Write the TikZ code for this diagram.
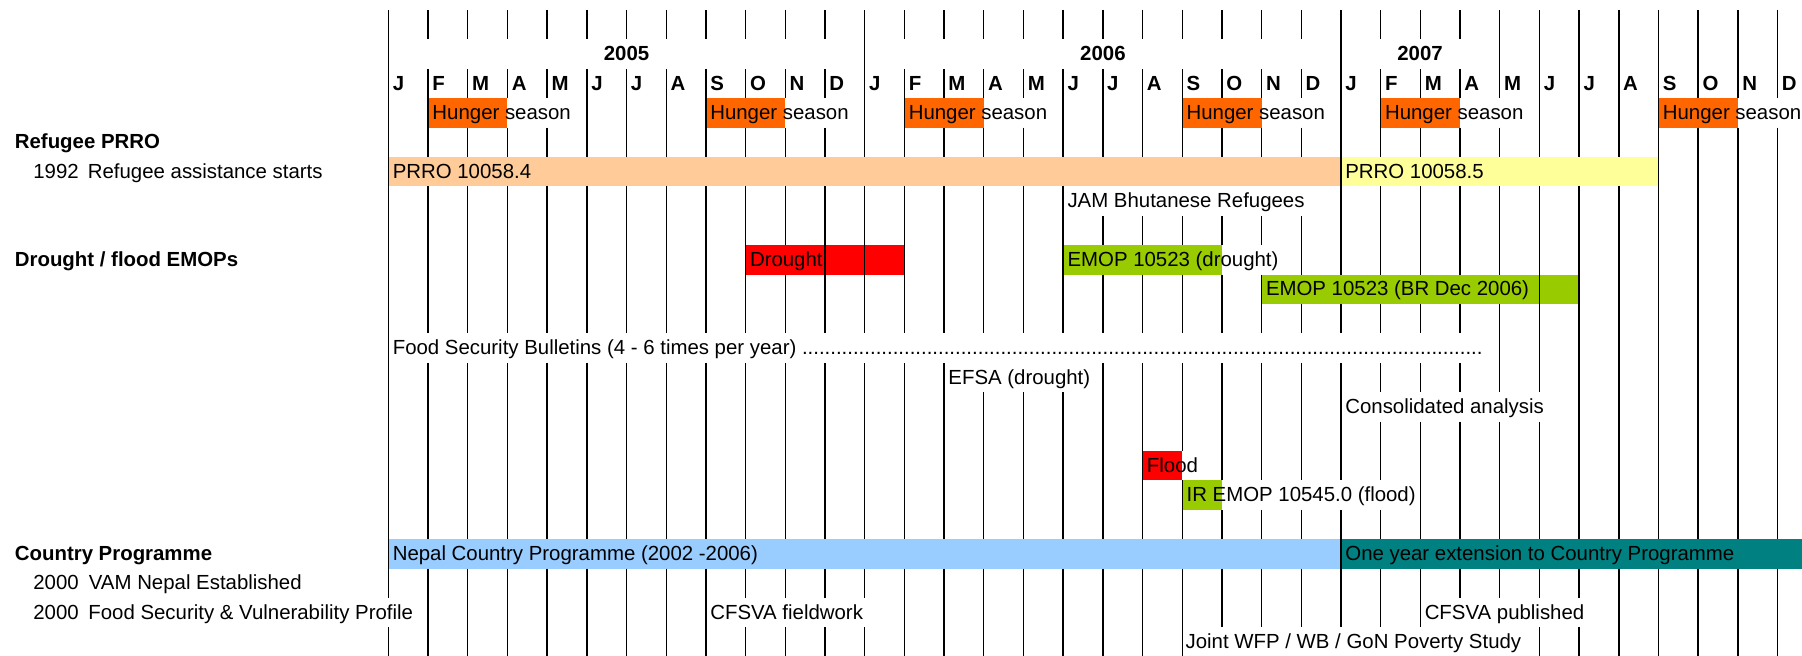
\documentclass[tikz,border=0pt]{standalone}
\usepackage{fontspec}
\setmainfont{Liberation Sans}
\ExplSyntaxOn
\newcommand\repdots[1]{\prg_replicate:nn{#1}{.}}
\ExplSyntaxOff
\definecolor{hungerc}{HTML}{FF6600}
\definecolor{prroa}{HTML}{FFCC99}
\definecolor{prrob}{HTML}{FFFF99}
\definecolor{redc}{HTML}{FF0000}
\definecolor{greenc}{HTML}{99CC00}
\definecolor{bluec}{HTML}{99CCFF}
\definecolor{tealc}{HTML}{008080}
\newcommand\cx[1]{388.4+39.69*(#1)}
\newcommand\ry[1]{10+29.4*(#1)}
\begin{document}
\begin{tikzpicture}[x=0.5pt,y=-0.5pt,
  grid/.style={line width=0.7pt, black},
  lbl/.style={anchor=base west, inner sep=0pt, font=\fontsize{10.2}{12}\selectfont},
  blbl/.style={lbl, font=\fontsize{10.2}{12}\selectfont\bfseries}]
\clip (0,0) rectangle (1802,655);
\fill[white] (0,0) rectangle (1802,655);

% ---- bars ----
\foreach \s in {1,8,13,20,25,32}
  \fill[hungerc] ({\cx{\s}},{\ry{3}}) rectangle ({\cx{\s+2}},{\ry{4}});
\fill[prroa] ({\cx{0}},{\ry{5}}) rectangle ({\cx{24}},{\ry{6}});
\fill[prrob] ({\cx{24}},{\ry{5}}) rectangle ({\cx{32}},{\ry{6}});
\fill[redc] ({\cx{9}},{\ry{8}}) rectangle ({\cx{13}},{\ry{9}});
\fill[greenc] ({\cx{17}},{\ry{8}}) rectangle ({\cx{21}},{\ry{9}});
\fill[greenc] ({\cx{22}},{\ry{9}}) rectangle ({\cx{30}},{\ry{10}});
\fill[redc] ({\cx{19}},{\ry{15}}) rectangle ({\cx{20}},{\ry{16}});
\fill[greenc] ({\cx{20}},{\ry{16}}) rectangle ({\cx{21}},{\ry{17}});
\fill[bluec] ({\cx{0}},{\ry{18}}) rectangle ({\cx{24}},{\ry{19}});
\fill[tealc] ({\cx{24}},{\ry{18}}) rectangle ({\cx{37}},{\ry{19}});

% ---- month grid lines (visible segments per row) ----
\foreach \r/\lst in {
  0/{0,1,...,35},
  1/{0,12,24,28,29,...,35},
  2/{0,1,...,35},
  3/{0,1,5,6,7,8,12,13,17,18,19,20,24,25,29,30,31,32},
  4/{0,1,...,35},
  5/{0,24,32,33,34,35},
  6/{0,1,...,17,24,25,...,35},
  7/{0,1,...,35},
  8/{0,1,...,9,11,12,...,17,23,24,...,35},
  9/{0,1,...,22,29,30,...,35},
  10/{0,1,...,35},
  11/{0,28,29,...,35},
  12/{0,1,...,14,18,19,...,35},
  13/{0,1,...,24,30,31,...,35},
  14/{0,1,...,35},
  15/{0,1,...,19,21,22,...,35},
  16/{0,1,...,20,26,27,...,35},
  17/{0,1,...,35},
  18/{0,24},
  19/{0,1,...,35},
  20/{1,2,...,8,13,14,...,26,31,32,...,35},
  21/{0,1,...,20,29,30,...,35}}
{
  \foreach \i in \lst
    \draw[grid] ({\cx{\i}},{\ry{\r}}) -- ({\cx{\i}},{\ry{\r+1}});
}

% ---- header ----
\node[blbl, anchor=base] (y2005) at (626.5,{\ry{1}+21.2}) {2005};
\node[blbl, anchor=base] (y2006) at (1102.9,{\ry{1}+21.2}) {2006};
\node[blbl, anchor=base] (y2007) at (1420,{\ry{1}+21.2}) {2007};
\foreach \m [count=\k from 0] in {J,F,M,A,M,J,J,A,S,O,N,D,J,F,M,A,M,J,J,A,S,O,N,D,J,F,M,A,M,J,J,A,S,O,N,D}
  \node[blbl] (m\k) at ({\cx{\k}+4},{\ry{2}+21.2}) {\m};
\foreach \s in {1,8,13,20,25,32}
  \node[lbl] (hunger\s) at ({\cx{\s}+4},{\ry{3}+21.2}) {Hunger season};

% ---- left labels ----
\node[blbl] (refugee) at (14.5,{\ry{4}+21.2}) {Refugee PRRO};
\node[lbl] (y1992) at (33,{\ry{5}+21.2}) {1992};
\node[lbl] (refstart) at (87.5,{\ry{5}+21.2}) {Refugee assistance starts};
\node[blbl] (emops) at (14.5,{\ry{8}+21.2}) {Drought / flood EMOPs};
\node[blbl] (cp) at (14.5,{\ry{18}+21.2}) {Country Programme};
\node[lbl] (y2000a) at (33,{\ry{19}+21.2}) {2000};
\node[lbl] (vam) at (88.5,{\ry{19}+21.2}) {VAM Nepal Established};
\node[lbl] (y2000b) at (33,{\ry{20}+21.2}) {2000};
\node[lbl] (fsvp) at (88,{\ry{20}+21.2}) {Food Security \& Vulnerability Profile};

% ---- chart texts ----
\node[lbl] (prro4) at ({\cx{0}+4},{\ry{5}+21.2}) {PRRO 10058.4};
\node[lbl] (prro5) at ({\cx{24}+4},{\ry{5}+21.2}) {PRRO 10058.5};
\node[lbl] (jam) at ({\cx{17}+4},{\ry{6}+21.2}) {JAM Bhutanese Refugees};
\node[lbl] (drought) at ({\cx{9}+4},{\ry{8}+21.2}) {Drought};
\node[lbl] (emopd) at ({\cx{17}+4},{\ry{8}+21.2}) {EMOP 10523 (drought)};
\node[lbl] (emopbr) at ({\cx{22}+4},{\ry{9}+21.2}) {EMOP 10523 (BR Dec 2006)};
\node[lbl] (fsb) at ({\cx{0}+4},{\ry{11}+21.2}) {Food Security Bulletins (4 - 6 times per year) \repdots{120}};
\node[lbl] (efsa) at ({\cx{14}+4},{\ry{12}+21.2}) {EFSA (drought)};
\node[lbl] (consol) at ({\cx{24}+4},{\ry{13}+21.2}) {Consolidated analysis};
\node[lbl] (flood) at ({\cx{19}+4},{\ry{15}+21.2}) {Flood};
\node[lbl] (iremop) at ({\cx{20}+4},{\ry{16}+21.2}) {IR EMOP 10545.0 (flood)};
\node[lbl] (nepalcp) at ({\cx{0}+4},{\ry{18}+21.2}) {Nepal Country Programme (2002 -2006)};
\node[lbl] (ext) at ({\cx{24}+4},{\ry{18}+21.2}) {One year extension to Country Programme};
\node[lbl] (cfsvaf) at ({\cx{8}+4},{\ry{20}+21.2}) {CFSVA fieldwork};
\node[lbl] (cfsvap) at ({\cx{26}+4},{\ry{20}+21.2}) {CFSVA published};
\node[lbl] (joint) at ({\cx{20}+3},{\ry{21}+21.2}) {Joint WFP / WB / GoN Poverty Study};
\end{tikzpicture}
\end{document}
